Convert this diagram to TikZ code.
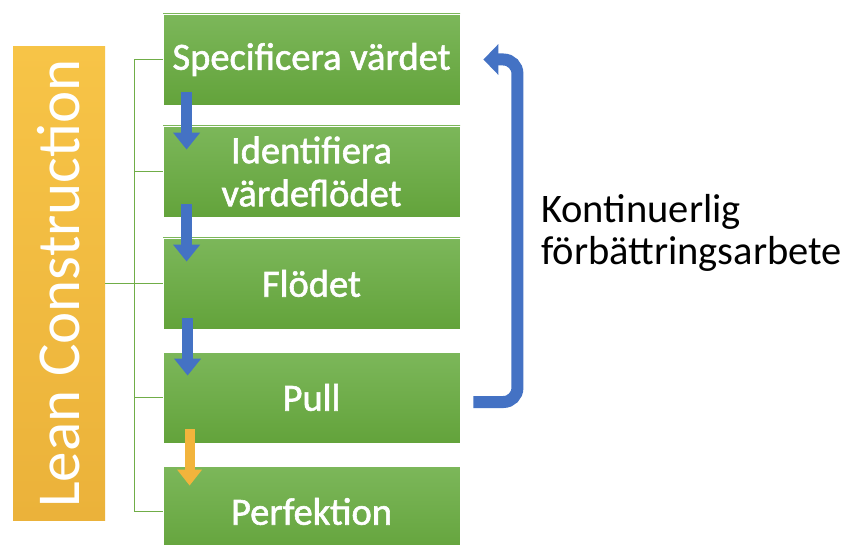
\documentclass[tikz,border=0pt]{standalone}
\usepackage{fontspec}
\setmainfont{Carlito}
\newfontfamily\boxfont[FakeBold=1.5]{Carlito}
\usetikzlibrary{arrows.meta,calc}
\definecolor{gtop}{HTML}{7CB75A}
\definecolor{gbot}{HTML}{63A33B}
\definecolor{gline}{HTML}{70AD47}
\definecolor{ltop}{HTML}{F7C447}
\definecolor{lbot}{HTML}{EBB23A}
\definecolor{blu}{HTML}{4472C4}
\definecolor{org}{HTML}{F2B43C}
\tikzset{
  stepbox/.style={draw=white, line width=0.8pt, top color=gtop, bottom color=gbot,
    text=white, minimum width=297pt, minimum height=91pt, inner sep=0pt,
    align=center, font=\boxfont\fontsize{38.5}{43}\selectfont},
  leanbox/.style={top color=ltop, bottom color=lbot, text=white,
    minimum width=92pt, minimum height=473pt, inner sep=0pt,
    font=\fontsize{61}{61}\selectfont},
  branch/.style={draw=gline, line width=1.6pt},
  downarrow/.style={line width=11pt, draw=blu, -{Triangle[width=26pt,length=17pt]}},
  warnarrow/.style={line width=10pt, draw=org, -{Triangle[width=24pt,length=16pt]}},
  bigarrow/.style={line width=12pt, draw=blu, rounded corners=14pt,
    -{Triangle[width=30pt,length=15pt]}},
  note/.style={anchor=west, align=left, inner sep=0pt, text=black,
    font=\fontsize{40.5}{42}\selectfont}
}
\begin{document}
\begin{tikzpicture}[x=1pt,y=-1pt]
\useasboundingbox (0,0) rectangle (846,545);
\clip (0,0) rectangle (846,545);
\fill[white] (0,0) rectangle (846,545);

\node[leanbox] (lean) at (59,283.5) {\rotatebox{90}{Lean Construction}};

\node[stepbox] (b1) at (311.5,59.5) {Specificera värdet};
\node[stepbox] (b2) at (311.5,171.5) {Identifiera\\värdeflödet};
\node[stepbox] (b3) at (311.5,283.5) {Flödet};
\node[stepbox] (b4) at (311.5,397.5) {Pull};
\node[stepbox] (b5) at (311.5,511.5) {Perfektion};

\draw[branch] (b1.west) -- ++(-28,0) coordinate (s1) |- (b5.west);
\draw[branch] (b2.west) -- (b2.west -| s1);
\draw[branch] (b3.west) -- (b3.west -| s1);
\draw[branch] (b4.west) -- (b4.west -| s1);
\draw[branch] (lean.east) -- (lean.east -| s1);

\draw[downarrow] ($(b1.south west)+(24,-13)$) -- ($(b2.north west)+(24,24)$);
\draw[downarrow] ($(b2.south west)+(24,-13)$) -- ($(b3.north west)+(24,24)$);
\draw[downarrow] ($(b3.south west)+(25,-11)$) -- ($(b4.north west)+(25,24)$);
\draw[warnarrow] ($(b4.south west)+(27,-14)$) -- ($(b5.north west)+(27,20)$);

\draw[bigarrow] ($(b4.east)+(13,4.5)$) -| ($(b1.east)+(57,0)$) -- ($(b1.east)+(23,0)$);

\node[note] (lbl) at (541,233) {Kontinuerlig\\förbättringsarbete};
\end{tikzpicture}
\end{document}
